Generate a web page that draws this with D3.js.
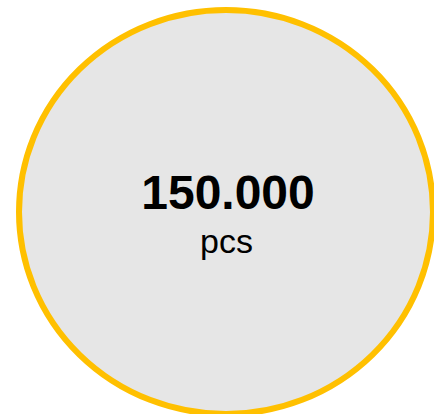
<!DOCTYPE html>
<html>
<head>
<meta charset="utf-8">
<script src="https://cdn.jsdelivr.net/npm/d3@7"></script>
<style>
    html, body { margin: 0; padding: 0; background: #fff; }
    svg { display: block; }
</style>
</head>
<body>
<div id="chart"></div>
<script>
// kpi data
var values = [150000];
var units = ["pcs"];

var width = 434,
    height = 414;

// dot as thousands separator
var locale = d3.formatLocale({ decimal: ",", thousands: ".", grouping: [3], currency: ["", ""] });
var fmt = locale.format(",d");

var svg = d3.select("#chart")
    .append("svg")
    .attr("width", width)
    .attr("height", height);

var g = svg.selectAll("g.kpi")
    .data(values)
    .enter()
    .append("g")
    .attr("class", "kpi")
    .attr("transform", "translate(226,212)");

g.append("ellipse")
    .attr("rx", 207)
    .attr("ry", 202)
    .attr("fill", "#e6e6e6")
    .attr("stroke", "#ffc000")
    .attr("stroke-width", 6);

g.append("text")
    .attr("x", 2)
    .attr("y", -3.5)
    .attr("text-anchor", "middle")
    .attr("font-family", "Liberation Sans, Arial, sans-serif")
    .attr("font-weight", "bold")
    .attr("font-size", 48)
    .attr("fill", "#000")
    .text(function (d) {
        return fmt(d);
    });

g.append("text")
    .attr("x", 0.5)
    .attr("y", 40.5)
    .attr("text-anchor", "middle")
    .attr("font-family", "Liberation Sans, Arial, sans-serif")
    .attr("font-size", 34)
    .attr("fill", "#000")
    .text(function (d, i) {
        return units[i];
    });
</script>
</body>
</html>
